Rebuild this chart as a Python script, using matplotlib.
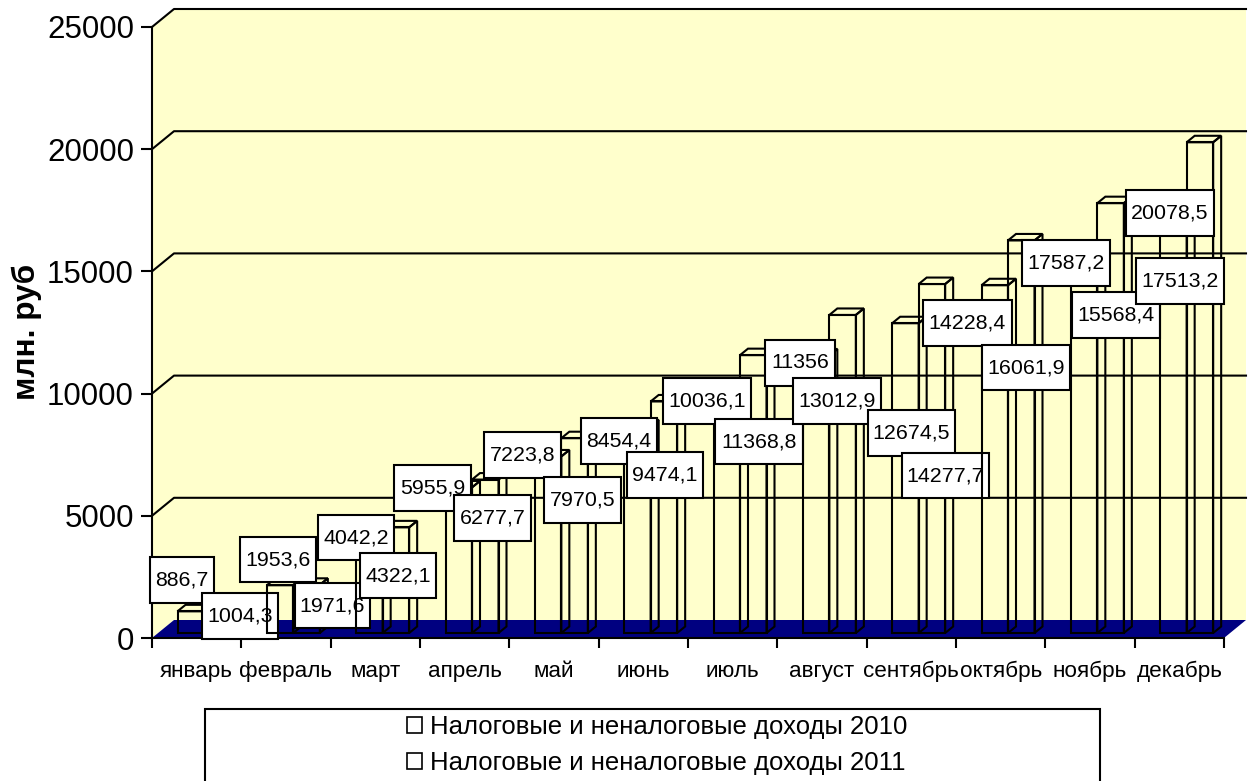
import matplotlib
matplotlib.use("Agg")
import matplotlib.pyplot as plt
from matplotlib.patches import Polygon, Rectangle, Patch
from matplotlib.transforms import Affine2D

plt.rcParams['font.family'] = ['Liberation Sans', 'DejaVu Sans']

# chart data
months = ['январь', 'февраль', 'март', 'апрель', 'май', 'июнь', 'июль',
          'август', 'сентябрь', 'октябрь', 'ноябрь', 'декабрь']
income_2010 = [886.7, 1953.6, 4042.2, 5955.9, 7223.8, 8454.4,
               10036.1, 11356, 12674.5, 14228.4, 15568.4, 17513.2]
income_2011 = [1004.3, 1971.6, 4322.1, 6277.7, 7970.5, 9474.1,
               11368.8, 13012.9, 14277.7, 16061.9, 17587.2, 20078.5]
label_2010 = ['886,7', '1953,6', '4042,2', '5955,9', '7223,8', '8454,4',
              '10036,1', '11356', '12674,5', '14228,4', '15568,4', '17513,2']
label_2011 = ['1004,3', '1971,6', '4322,1', '6277,7', '7970,5', '9474,1',
              '11368,8', '13012,9', '14277,7', '16061,9', '17587,2', '20078,5']
y_ticks = [0, 5000, 10000, 15000, 20000, 25000]

# label boxes were dragged by hand in the original: left, top, right, bottom in pixels
boxes_2010 = [(150, 557, 214, 603), (240, 537, 316, 582), (318, 515, 394, 560),
              (394, 465, 471, 511), (484, 432, 561, 478), (581, 418, 657, 464),
              (663, 378, 751, 424), (765, 340, 835, 386), (868, 410, 955, 456),
              (923, 300, 1012, 346), (1072, 292, 1160, 338), (1136, 258, 1224, 304)]
boxes_2011 = [(202, 593, 278, 639), (295, 583, 370, 628), (360, 553, 436, 598),
              (454, 495, 531, 541), (544, 477, 621, 523), (627, 452, 703, 498),
              (715, 419, 803, 464), (793, 378, 881, 424), (902, 453, 989, 498),
              (982, 345, 1070, 390), (1022, 240, 1110, 286), (1126, 190, 1214, 236)]

W, H = 1253, 781
LEFT, RIGHT, TOP, BOTTOM = 152, 1224, 27, 638
CAT_PX = (RIGHT - LEFT) / 12
VAL_PX = (BOTTOM - TOP) / 25000
WALL = '#FFFFCC'
NAVY = '#000080'
LW = 1.5

# depth of the fake 3d box, in data units
depth_x = 22 / CAT_PX
depth_y = 18 / VAL_PX
bar_w = 26.5 / CAT_PX
bar_dx = 8 / CAT_PX
bar_dy = 6.5 / VAL_PX
bar_start = 25.5 / CAT_PX
base = 5 / VAL_PX


def draw_bar(ax, x, value, z):
    top = base + value
    ax.add_patch(Polygon([(x, base), (x + bar_w, base), (x + bar_w, top), (x, top)],
                         closed=True, fill=False, ec='black', lw=LW, zorder=z))
    ax.add_patch(Polygon([(x + bar_w, base), (x + bar_w + bar_dx, base + bar_dy),
                          (x + bar_w + bar_dx, top + bar_dy), (x + bar_w, top)],
                         closed=True, fill=False, ec='black', lw=LW, zorder=z))
    ax.add_patch(Polygon([(x, top), (x + bar_dx, top + bar_dy),
                          (x + bar_w + bar_dx, top + bar_dy), (x + bar_w, top)],
                         closed=True, fill=False, ec='black', lw=LW, zorder=z))


def draw_label(ax, text, box, z):
    x0, y0, x1, y1 = box
    ax.add_patch(Rectangle((x0, y0), x1 - x0, y1 - y0, fc='white', ec='black', lw=LW,
                           transform=px, clip_on=False, zorder=z))
    ax.text((x0 + x1) / 2, (y0 + y1) / 2, text, ha='center', va='center', fontsize=15.4,
            transform=px, zorder=z + 0.1)


fig = plt.figure(figsize=(W / 100, H / 100), dpi=100)
ax = fig.add_axes([LEFT / W, 1 - BOTTOM / H, (RIGHT - LEFT) / W, (BOTTOM - TOP) / H])
ax.set_xlim(0, 12)
ax.set_ylim(0, 25000)
ax.patch.set_visible(False)
for side in ['top', 'right', 'bottom']:
    ax.spines[side].set_visible(False)
ax.spines['left'].set_linewidth(LW)
ax.spines['left'].set_zorder(2.5)

# figure pixels, y going down
px = Affine2D().scale(1 / W, -1 / H).translate(0, 1) + fig.transFigure

# walls and floor
ax.add_patch(Polygon([(0, 0), (depth_x, depth_y), (12 + depth_x, depth_y),
                      (12 + depth_x, 25000 + depth_y), (depth_x, 25000 + depth_y), (0, 25000)],
                     closed=True, fc=WALL, ec='none', clip_on=False, zorder=0))
ax.add_patch(Polygon([(0, 0), (depth_x, depth_y), (12 + depth_x, depth_y), (12, 0)],
                     closed=True, fc=NAVY, ec='none', clip_on=False, zorder=1))
ax.plot([0, 12], [0, 0], color='black', lw=LW, clip_on=False, zorder=2.5)
for v in y_ticks[1:]:
    ax.plot([0, depth_x, 12 + depth_x], [v, v + depth_y, v + depth_y],
            color='black', lw=LW, clip_on=False, zorder=2)

# each month is painted over the previous one, its bars may cross older labels
for i in range(12):
    z = 3 + i
    draw_bar(ax, i + bar_start, income_2010[i], z)
    draw_bar(ax, i + bar_start + bar_w, income_2011[i], z)
    draw_label(ax, label_2010[i], boxes_2010[i], z + 0.2)
    draw_label(ax, label_2011[i], boxes_2011[i], z + 0.4)

ax.set_xticks(range(13))
ax.set_xticklabels([])
ax.set_xticks([i + 0.5 for i in range(12)], minor=True)
ax.set_xticklabels(months, minor=True, fontsize=16.2)
ax.tick_params(axis='x', which='major', length=7, width=LW, color='black')
ax.tick_params(axis='x', which='minor', length=0, pad=16.5)
ax.set_yticks(y_ticks)
ax.tick_params(axis='y', length=8, width=LW, pad=5, labelsize=22.5)
ax.set_ylabel('млн. руб', fontsize=22.7, fontweight='bold', va='center')
ax.yaxis.set_label_coords((27 - LEFT) / (RIGHT - LEFT), (BOTTOM - 332) / (BOTTOM - TOP))

# legend frame runs off the bottom of the picture
fig.add_artist(Rectangle((205, 709), 895, 90, fc='white', ec='black', lw=LW, transform=px))
handles = [Patch(fc='white', ec='black', lw=1.2), Patch(fc='white', ec='black', lw=1.2)]
fig.legend(handles, ['Налоговые и неналоговые доходы 2010', 'Налоговые и неналоговые доходы 2011'],
           loc='center', bbox_to_anchor=(657 / W, 1 - 745 / H), frameon=False, fontsize=18.5,
           handlelength=0.585, handleheight=0.585, handletextpad=0.31, labelspacing=0.45).set_zorder(20)

fig.savefig('out.png', dpi=100)
